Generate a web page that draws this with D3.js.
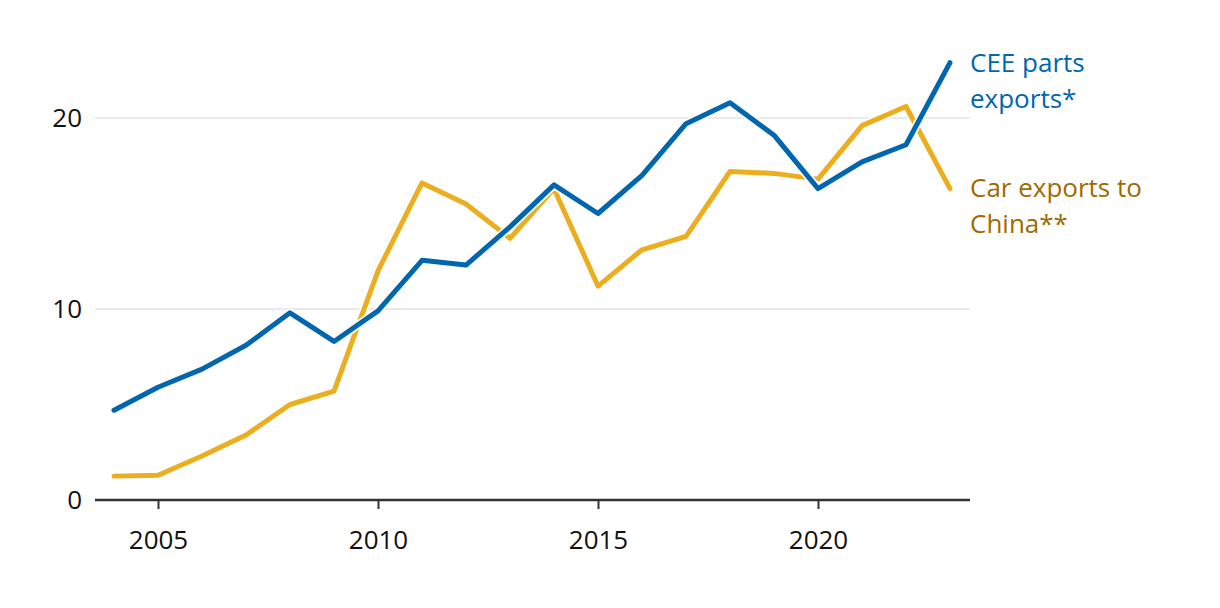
<!DOCTYPE html>
<html lang="en">
<head>
    <meta charset="UTF-8">
    <title>CEE parts exports and car exports to China</title>
    <script src="https://d3js.org/d3.v7.min.js"></script>
    <style>
        body { margin: 0; background: #fff; }
        text { font-family: "Open Sans", sans-serif; }
    </style>
</head>
<body>
    <div id="chart"></div>

    <script>
        // Data
        const years = [2004, 2005, 2006, 2007, 2008, 2009, 2010, 2011, 2012, 2013,
                       2014, 2015, 2016, 2017, 2018, 2019, 2020, 2021, 2022, 2023];
        const ceeParts = [4.7, 5.9, 6.85, 8.1, 9.8, 8.3, 9.9, 12.55, 12.3, 14.3,
                          16.5, 15.0, 17.0, 19.7, 20.8, 19.1, 16.3, 17.7, 18.6, 22.9];
        const carsChina = [1.25, 1.3, 2.3, 3.4, 5.0, 5.7, 12.0, 16.6, 15.5, 13.7,
                           16.3, 11.2, 13.1, 13.8, 17.2, 17.1, 16.8, 19.6, 20.6, 16.3];
        const yTicks = [0, 10, 20];
        const xTicks = [2005, 2010, 2015, 2020];

        const width = 1220, height = 608;
        const svg = d3.select("#chart").append("svg")
            .attr("width", width)
            .attr("height", height);

        const x = d3.scaleLinear().domain([2004, 2023]).range([114, 950]);
        const y = d3.scaleLinear().domain([0, 20]).range([500, 118]);

        // gridlines
        svg.selectAll(".grid")
            .data(yTicks.filter(d => d > 0))
            .enter().append("line")
            .attr("x1", 95).attr("x2", 970)
            .attr("y1", d => y(d)).attr("y2", d => y(d))
            .attr("stroke", "#e3e3e3")
            .attr("stroke-width", 1.5);

        // y labels
        svg.selectAll(".ylab")
            .data(yTicks)
            .enter().append("text")
            .attr("x", 82)
            .attr("y", d => y(d) + 9)
            .attr("text-anchor", "end")
            .attr("font-size", 26)
            .attr("fill", "#111")
            .text(d => d);

        // x axis
        const xAxis = d3.axisBottom(x)
            .tickValues(xTicks)
            .tickFormat(d3.format("d"))
            .tickSize(9)
            .tickPadding(22);
        const gx = svg.append("g")
            .attr("transform", `translate(0,${y(0)})`)
            .call(xAxis);
        gx.select(".domain").remove();
        gx.append("line")
            .attr("x1", 95).attr("x2", 970)
            .attr("stroke", "#333").attr("stroke-width", 2.5);
        gx.selectAll(".tick line").attr("stroke", "#333").attr("stroke-width", 2);
        gx.selectAll(".tick text")
            .attr("font-size", 26)
            .attr("fill", "#111")
            .attr("font-family", "Open Sans, sans-serif");

        // lines
        const line = d3.line()
            .x((d, i) => x(years[i]))
            .y(d => y(d));

        const series = [
            { values: carsChina, color: "#ecae1f" },
            { values: ceeParts, color: "#0066ae" }
        ];
        series.forEach(s => {
            svg.append("path")
                .attr("d", line(s.values))
                .attr("fill", "none")
                .attr("stroke", "#fff")
                .attr("stroke-width", 8.5)
                .attr("stroke-linejoin", "round")
                .attr("stroke-linecap", "round");
            svg.append("path")
                .attr("d", line(s.values))
                .attr("fill", "none")
                .attr("stroke", s.color)
                .attr("stroke-width", 5)
                .attr("stroke-linejoin", "round")
                .attr("stroke-linecap", "round");
        });

        // labels
        const labels = [
            { lines: ["CEE parts", "exports*"], color: "#0066ae", y0: 72 },
            { lines: ["Car exports to", "China**"], color: "#a06a00", y0: 197 }
        ];
        labels.forEach(l => {
            const t = svg.append("text")
                .attr("x", 970)
                .attr("y", l.y0)
                .attr("font-size", 26)
                .attr("fill", l.color);
            l.lines.forEach((s, i) => {
                t.append("tspan")
                    .attr("x", 970)
                    .attr("dy", i === 0 ? 0 : 36)
                    .text(s);
            });
        });
    </script>
</body>
</html>
